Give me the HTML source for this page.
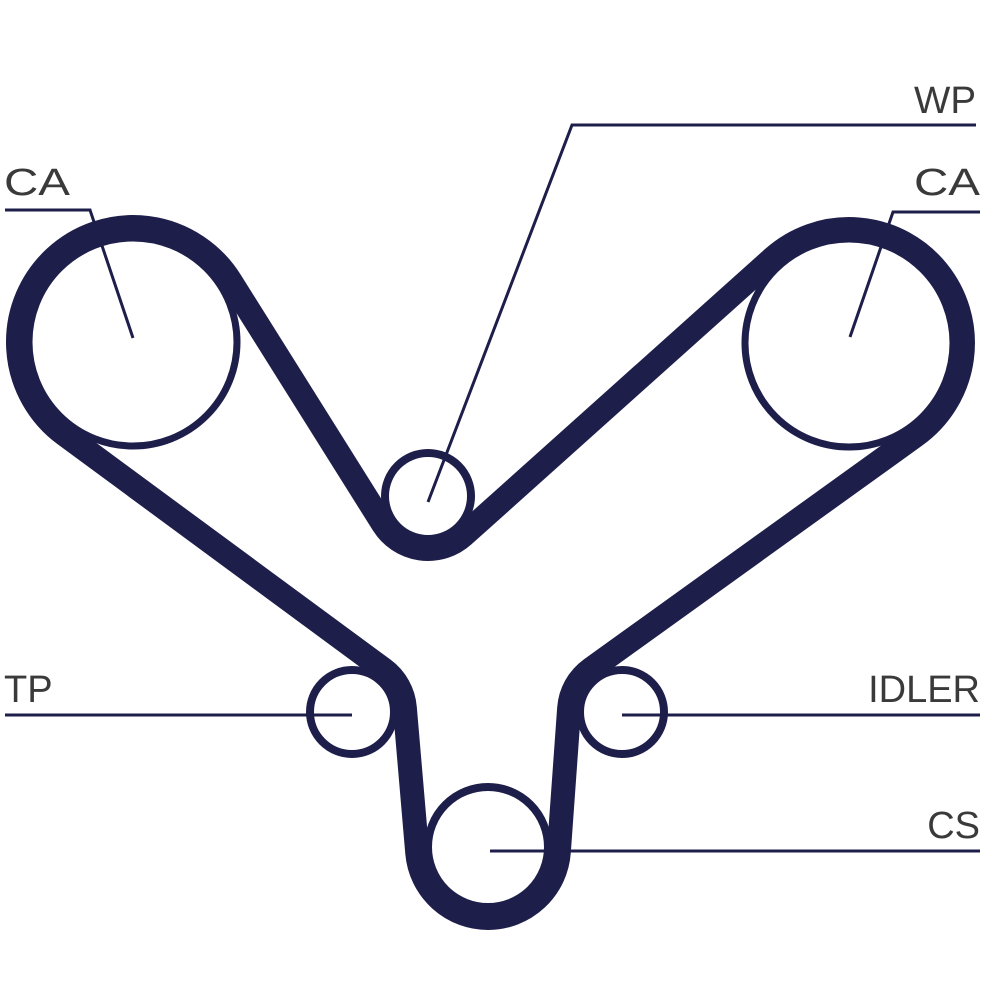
<!DOCTYPE html>
<html><head><meta charset="utf-8">
<style>
html,body{margin:0;padding:0;background:#fff;}
svg{display:block;}
text{font-family:"Liberation Sans",sans-serif;font-size:38px;fill:#3a3a3a;}
</style></head>
<body>
<svg id="s" width="1000" height="1000" viewBox="0 0 1000 1000" xmlns="http://www.w3.org/2000/svg">
<g fill="none" stroke="#1e1e4b">
<path id="belt" stroke-width="24" stroke-linejoin="round" d=""/>
<circle cx="133" cy="342" r="104" stroke-width="7"/>
<circle cx="849" cy="343" r="104" stroke-width="7"/>
<circle cx="428" cy="496" r="43" stroke-width="8"/>
<circle cx="352" cy="712" r="42" stroke-width="8"/>
<circle cx="622" cy="712" r="42" stroke-width="8"/>
<circle cx="488" cy="847" r="60" stroke-width="8"/>
</g>
<g fill="none" stroke="#1e1e4b" stroke-width="3">
<polyline points="133,338 90,210 5,210"/>
<polyline points="850,337 893,212 980,212"/>
<polyline points="428,502 572,125 976,125"/>
<line x1="5" y1="715" x2="352" y2="715"/>
<line x1="622" y1="715" x2="980" y2="715"/>
<line x1="490" y1="851" x2="980" y2="851"/>
</g>
<text x="4" y="195" textLength="66" lengthAdjust="spacingAndGlyphs">CA</text>
<text x="914" y="195" textLength="66" lengthAdjust="spacingAndGlyphs">CA</text>
<text x="914" y="113" textLength="62" lengthAdjust="spacingAndGlyphs">WP</text>
<text x="4" y="702">TP</text>
<text x="980" y="702" text-anchor="end">IDLER</text>
<text x="980" y="838" text-anchor="end">CS</text>
</svg>
<script>
(function(){
var C=[
 [133,342,115,1],
 [428,496,53,-1],
 [849,343,114,1],
 [622,712,53,-1],
 [488,847,71,1],
 [352,712,53,-1]
];
function tangent(a,b){
 var Dx=b[0]-a[0],Dy=b[1]-a[1],L=Math.hypot(Dx,Dy);
 var ux=Dx/L,uy=Dy/L;
 var k=(b[3]*b[2]-a[3]*a[2])/L;
 var q=Math.sqrt(Math.max(0,1-k*k));
 var best=null;
 [1,-1].forEach(function(sg){
  var vx=-uy*sg,vy=ux*sg;
  var mx=k*ux+q*vx,my=k*uy+q*vy;
  var dx=my,dy=-mx;
  if(dx*Dx+dy*Dy>0) best=[mx,my];
 });
 var mx=best[0],my=best[1];
 return [[a[0]-a[3]*a[2]*mx,a[1]-a[3]*a[2]*my],[b[0]-b[3]*b[2]*mx,b[1]-b[3]*b[2]*my]];
}
var n=C.length,T=[];
for(var i=0;i<n;i++)T.push(tangent(C[i],C[(i+1)%n]));
var d="";
for(var i=0;i<n;i++){
 var seg=T[i];
 var nxt=T[(i+1)%n];
 var c=C[(i+1)%n];
 if(i==0) d+="M"+seg[0][0].toFixed(2)+","+seg[0][1].toFixed(2);
 d+=" L"+seg[1][0].toFixed(2)+","+seg[1][1].toFixed(2);
 var a1=Math.atan2(seg[1][1]-c[1],seg[1][0]-c[0]);
 var a2=Math.atan2(nxt[0][1]-c[1],nxt[0][0]-c[0]);
 var delta=c[3]>0?(a2-a1):(a1-a2);
 while(delta<0)delta+=2*Math.PI;
 while(delta>=2*Math.PI)delta-=2*Math.PI;
 var large=delta>Math.PI?1:0;
 var sweep=c[3]>0?1:0;
 d+=" A"+c[2]+","+c[2]+" 0 "+large+" "+sweep+" "+nxt[0][0].toFixed(2)+","+nxt[0][1].toFixed(2);
}
d+=" Z";
document.getElementById("belt").setAttribute("d",d);
})();
</script>
</body></html>
